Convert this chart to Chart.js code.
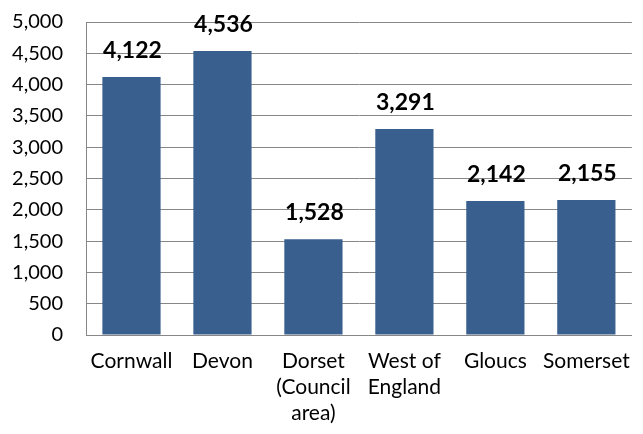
<!DOCTYPE html>
<html>
<head>
<meta charset="utf-8">
<script src="https://cdn.jsdelivr.net/npm/chart.js@4/dist/chart.umd.min.js"></script>
<style>
    html, body { margin: 0; padding: 0; background: #fff; }
    #wrap { width: 643px; height: 434px; position: relative; }
</style>
</head>
<body>
<div id="wrap"><canvas id="mainChart"></canvas></div>
<script>
const categories = ['Cornwall', 'Devon', ['Dorset', '(Council', 'area)'], ['West of', 'England'], 'Gloucs', 'Somerset'];
const counts = [4122, 4536, 1528, 3291, 2142, 2155];
const yTicks = [0, 500, 1000, 1500, 2000, 2500, 3000, 3500, 4000, 4500, 5000];

const BAR_COLOR = '#385f8e';
const GRID_COLOR = '#878787';
const FONT = 'Lato';

// draws the bold value above each bar (outside end)
const valueLabels = {
    id: 'valueLabels',
    afterDatasetsDraw(chart) {
        const ctx = chart.ctx;
        const meta = chart.getDatasetMeta(0);
        ctx.save();
        ctx.font = 'bold 23px ' + FONT;
        ctx.fillStyle = '#000';
        ctx.textAlign = 'center';
        ctx.textBaseline = 'alphabetic';
        meta.data.forEach((bar, i) => {
            ctx.fillText(counts[i].toLocaleString('en-GB'), bar.x + 1, bar.y - 19);
        });
        ctx.restore();
    }
};

new Chart(document.getElementById('mainChart').getContext('2d'), {
    type: 'bar',
    data: {
        labels: categories,
        datasets: [{
            data: counts,
            backgroundColor: BAR_COLOR,
            borderWidth: 0,
            categoryPercentage: 1,
            barPercentage: 0.64
        }]
    },
    options: {
        responsive: true,
        maintainAspectRatio: false,
        animation: false,
        layout: { padding: { top: 22, right: 3, left: 0, bottom: 0 } },
        plugins: {
            legend: { display: false },
            tooltip: { enabled: false }
        },
        scales: {
            x: {
                grid: { display: false, drawTicks: false },
                border: { display: true, color: GRID_COLOR, width: 1 },
                ticks: {
                    color: '#000',
                    font: { family: FONT, size: 21, lineHeight: 1.24 },
                    padding: 13,
                    maxRotation: 0,
                    autoSkip: false
                },
                afterFit(scale) {
                    scale.height = 99;
                    scale.paddingTop = 0;
                    scale.paddingBottom = 0;
                }
            },
            y: {
                min: 0,
                max: 5000,
                afterBuildTicks(scale) { scale.ticks = yTicks.map(v => ({ value: v })); },
                grid: { color: GRID_COLOR, lineWidth: 1, drawTicks: false },
                border: { display: true, color: GRID_COLOR, width: 1 },
                ticks: {
                    color: '#000',
                    font: { family: FONT, size: 20 },
                    padding: 23,
                    callback: v => v.toLocaleString('en-GB')
                },
                afterFit(scale) {
                    scale.width = 86;
                    scale.paddingTop = 0;
                    scale.paddingBottom = 0;
                }
            }
        }
    },
    plugins: [valueLabels]
});
</script>
</body>
</html>
